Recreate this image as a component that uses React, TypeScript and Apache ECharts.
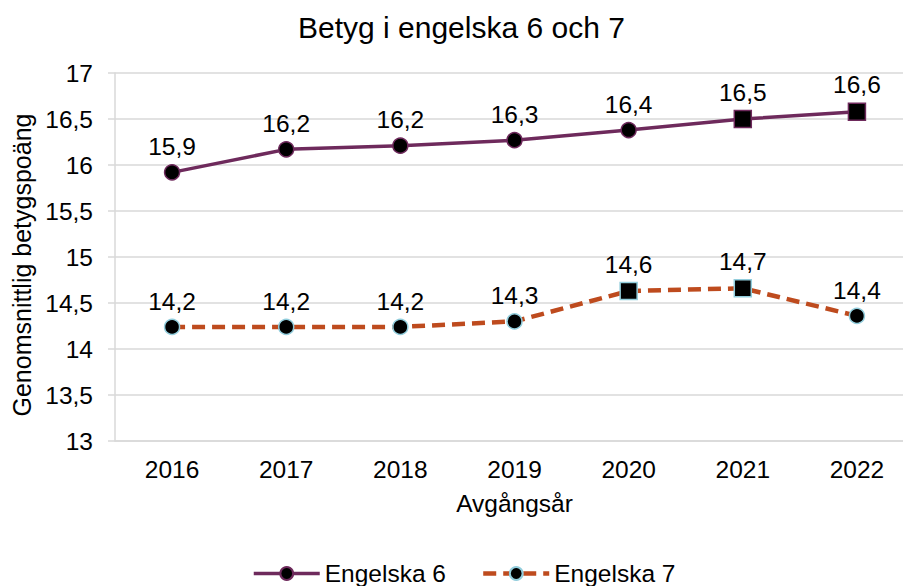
import React, { useEffect, useRef } from "react";
import * as echarts from "echarts";

const categories = ["2016", "2017", "2018", "2019", "2020", "2021", "2022"];
const engelska6 = [15.92, 16.17, 16.21, 16.27, 16.38, 16.5, 16.58];
const engelska7 = [14.24, 14.24, 14.24, 14.3, 14.63, 14.66, 14.36];
const squares6 = [false, false, false, false, false, true, true];
const squares7 = [false, false, false, false, true, true, false];

const FONT = "'Liberation Sans', Arial, sans-serif";
const FS = 24.5;
const PURPLE = "#6E2A5C";
const ORANGE = "#BE4B1E";
const LIGHTBLUE = "#92CDDC";

const fmt = (v: number) => v.toFixed(1).replace(".", ",");

export default function App() {
  const ref = useRef<HTMLDivElement>(null);
  useEffect(() => {
    if (!ref.current) return;
    const chart = echarts.init(ref.current, undefined, { renderer: "svg" });
    const mk = (vals: number[], sq: boolean[]) =>
      vals.map((v, i) => ({
        value: v,
        symbol: sq[i] ? "rect" : "circle",
        symbolSize: sq[i] ? 17 : 15,
      }));
    const label = {
      show: true,
      position: "top" as const,
      distance: 5,
      color: "#000",
      fontSize: FS,
      fontFamily: FONT,
      formatter: (p: any) => fmt(p.value),
    };
    chart.setOption({
      animation: false,
      textStyle: { fontFamily: FONT },
      title: {
        text: "Betyg i engelska 6 och 7",
        left: 293,
        top: 7,
        textStyle: { fontSize: 30, fontWeight: "normal", color: "#000", fontFamily: FONT },
      },
      graphic: [
        {
          type: "text",
          x: 22,
          y: 265,
          rotation: Math.PI / 2,
          style: {
            text: "Genomsnittlig betygspoäng",
            fontSize: 25,
            fontFamily: FONT,
            fill: "#000",
            align: "center",
            verticalAlign: "middle",
          },
        },
      ],
      grid: { left: 115, right: 1, top: 73, height: 368, containLabel: false },
      legend: {
        top: 561,
        left: 252,
        padding: 0,
        itemWidth: 66,
        itemHeight: 16,
        itemGap: 35,
        textStyle: { fontSize: FS, color: "#000", fontFamily: FONT },
        data: [
          { name: "Engelska 6", lineStyle: { width: 3.5 } },
          { name: "Engelska 7", lineStyle: { width: 4.5 } },
        ],
      },
      xAxis: {
        type: "category",
        data: categories,
        boundaryGap: true,
        axisLine: { lineStyle: { color: "#D9D9D9", width: 1.5 } },
        axisTick: { show: false },
        axisLabel: { color: "#000", fontSize: FS, margin: 16, fontFamily: FONT },
        name: "Avgångsår",
        nameLocation: "middle",
        nameGap: 50,
        nameTextStyle: { color: "#000", fontSize: FS, fontFamily: FONT },
      },
      yAxis: {
        type: "value",
        min: 13,
        max: 17,
        interval: 0.5,
        axisLine: { show: true, lineStyle: { color: "#D9D9D9", width: 1.5 } },
        axisTick: { show: true, length: 7, lineStyle: { color: "#D9D9D9", width: 1.5 } },
        splitLine: { lineStyle: { color: "#D9D9D9", width: 1.5 } },
        axisLabel: {
          color: "#000",
          fontSize: FS,
          margin: 22,
          fontFamily: FONT,
          formatter: (v: number) => String(v).replace(".", ","),
        },
      },
      series: [
        {
          name: "Engelska 6",
          type: "line",
          data: mk(engelska6, squares6),
          symbol: "circle",
          symbolSize: 15,
          lineStyle: { color: PURPLE, width: 3.5 },
          itemStyle: { color: "#000", borderColor: PURPLE, borderWidth: 1.5 },
          label,
          z: 3,
        },
        {
          name: "Engelska 7",
          type: "line",
          data: mk(engelska7, squares7),
          symbol: "circle",
          symbolSize: 15,
          lineStyle: { color: ORANGE, width: 4.5, type: [13, 7] },
          itemStyle: { color: "#000", borderColor: LIGHTBLUE, borderWidth: 1.5 },
          label,
          z: 2,
        },
      ],
    });
    return () => chart.dispose();
  }, []);
  return (
    <div style={{ width: 903, height: 586, position: "absolute", left: 0, top: 0, overflow: "hidden" }}>
      <div ref={ref} style={{ width: 915, height: 586 }} />
    </div>
  );
}
